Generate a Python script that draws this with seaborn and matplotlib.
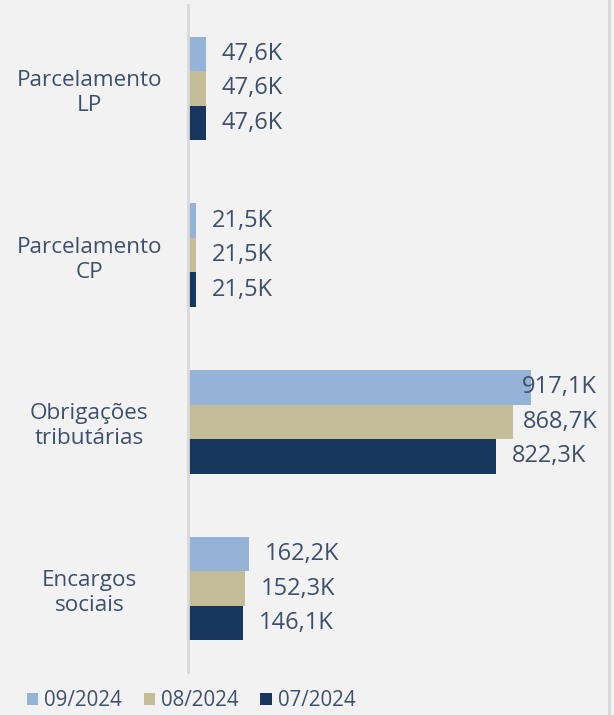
import numpy as np
import pandas as pd
import matplotlib
matplotlib.use('Agg')
import matplotlib.pyplot as plt
import seaborn as sns
from matplotlib.patches import Patch
from matplotlib.lines import Line2D

# dados (milhares)
categorias = ['Parcelamento\nLP', 'Parcelamento\nCP', 'Obrigações\ntributárias', 'Encargos\nsociais']
periodos = ['09/2024', '08/2024', '07/2024']
v_09 = [47.6, 21.5, 917.1, 162.2]
v_08 = [47.6, 21.5, 868.7, 152.3]
v_07 = [47.6, 21.5, 822.3, 146.1]
cores = ['#95B3D7', '#C4BD97', '#17375E']

df = pd.DataFrame({
    'categoria': categorias * 3,
    'periodo': [p for p in periodos for _ in categorias],
    'valor': v_09 + v_08 + v_07,
})

sns.set_theme(style='white')
plt.rcParams['font.family'] = ['Open Sans', 'DejaVu Sans']
txt = '#3E4F6B'
bg = '#F2F2F2'

fig = plt.figure(figsize=(6.14, 7.15), dpi=100, facecolor=bg)
ax = fig.add_axes([188 / 614, 43 / 715, (606 - 188) / 614, 667 / 715])
ax.set_facecolor(bg)

sns.barplot(data=df, y='categoria', x='valor', hue='periodo', order=categorias,
            hue_order=periodos, palette=cores, orient='h', width=0.62,
            saturation=1, ax=ax, legend=False, linewidth=0)

xmax = (606 - 188) / 0.374
ax.set_xlim(0, xmax)
ax.set_xlabel('')
ax.set_ylabel('')
ax.set_xticks([])

for s in ['top', 'right', 'bottom']:
    ax.spines[s].set_visible(False)
ax.spines['left'].set_color('#D9D9D9')
ax.spines['left'].set_linewidth(2)

ax.tick_params(axis='y', length=0, pad=71, labelsize=16.2, labelcolor=txt)
for lab in ax.get_yticklabels():
    lab.set_ha('center')
    lab.set_multialignment('center')
    lab.set_linespacing(1.25)

# rótulos de dados
fig.canvas.draw()
renderer = fig.canvas.get_renderer()
x0 = ax.transData.transform((0, 0))[0]
px_per_unit = ax.transData.transform((1, 0))[0] - x0
limite = x0 + (597 - 188)
for cont in ax.containers:
    for bar in cont:
        w = bar.get_width()
        y = bar.get_y() + bar.get_height() / 2
        s = f'{w:.1f}K'.replace('.', ',')
        t = ax.text(w + 16 / px_per_unit, y, s, va='center', ha='left',
                    fontsize=17, color=txt)
        bb = t.get_window_extent(renderer)
        if bb.x1 > limite:
            t.set_ha('right')
            t.set_position(((limite - x0) / px_per_unit, y))

# legenda
handles = [Patch(facecolor=c, edgecolor='none') for c in cores]
fig.legend(handles, periodos, loc='center left', bbox_to_anchor=(27 / 614, 1 - 701 / 715),
           ncol=3, frameon=False, fontsize=14.8, labelcolor=txt, handlelength=0.55,
           handleheight=0.55, handletextpad=0.3, columnspacing=1.05,
           borderpad=0, borderaxespad=0)

# borda direita
fig.add_artist(Line2D([609 / 614, 609 / 614], [0, 1], color='#D9D9D9', linewidth=2))

fig.savefig('out.png', dpi=100, facecolor=bg)
